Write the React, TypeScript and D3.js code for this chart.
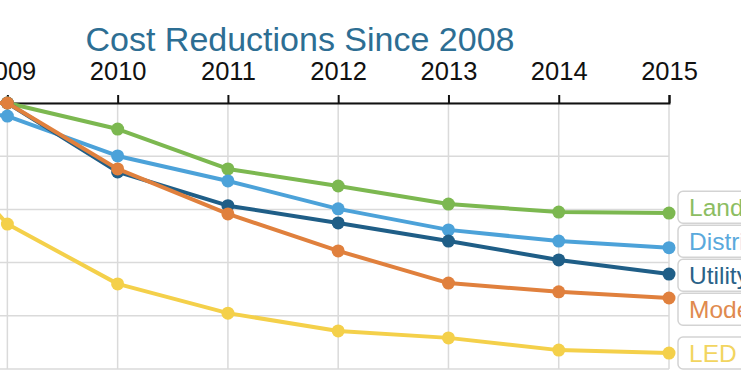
import { useRef, useEffect } from 'react';
import * as d3 from 'd3';

const W = 741;
const H = 389;

const years = [2008, 2009, 2010, 2011, 2012, 2013, 2014, 2015];
const landCost = [100, 100, 90.2, 75.2, 68.8, 62.0, 59.0, 58.6];
const distribCost = [100, 95.1, 80.1, 70.7, 60.2, 52.3, 48.1, 45.6];
const utilityCost = [100, 100, 74.1, 61.4, 54.9, 48.1, 41.0, 35.7];
const modeCost = [100, 100, 75.2, 58.3, 44.4, 32.3, 29.0, 26.7];
const ledCost = [100, 54.5, 32.0, 21.0, 14.3, 11.7, 7.1, 6.0];
const yTicks = [0, 20, 40, 60, 80, 100];

const seriesNames = ['Land Acquisition', 'Distribution', 'Utility-Scale Solar', 'Modeling', 'LED Bulbs'];
const seriesValues = [landCost, distribCost, utilityCost, modeCost, ledCost];
const lineColors = ['#7cb850', '#4ca2d9', '#1f5e87', '#e0803d', '#f4d04a'];
const textColors = ['#8cbd62', '#5aa9dc', '#2a6288', '#e08a4e', '#f2d560'];

const FONT = '"Liberation Sans", Arial, sans-serif';

const App = () => {
    const ref = useRef(null);

    useEffect(() => {
        const svg = d3.select(ref.current);
        svg.selectAll('*').remove();

        const x = d3.scaleLinear().domain([2008, 2015]).range([-102.9, 669]);
        const y = d3.scaleLinear().domain([0, 100]).range([369, 103]);

        // grid
        const grid = svg.append('g').attr('stroke', '#dadada').attr('stroke-width', 1.5);
        grid.selectAll('line.h')
            .data(yTicks)
            .enter().append('line')
            .attr('x1', x(2008)).attr('x2', x(2015))
            .attr('y1', d => y(d)).attr('y2', d => y(d));
        grid.selectAll('line.v')
            .data(years)
            .enter().append('line')
            .attr('x1', d => x(d)).attr('x2', d => x(d))
            .attr('y1', y(100)).attr('y2', y(0));

        // top axis
        const axis = d3.axisTop(x)
            .tickValues(years)
            .tickFormat(d3.format('d'))
            .tickSize(8)
            .tickSizeOuter(8)
            .tickPadding(15);
        const ag = svg.append('g')
            .attr('transform', `translate(0, ${y(100)})`)
            .call(axis);
        ag.select('.domain').attr('stroke', '#111').attr('stroke-width', 2);
        ag.selectAll('.tick line').attr('stroke', '#111').attr('stroke-width', 2);
        ag.selectAll('.tick text')
            .attr('fill', '#111')
            .style('font-size', '25.5px')
            .style('font-family', FONT);

        // lines and dots
        const line = d3.line<number>()
            .x((_, i) => x(years[i]))
            .y(d => y(d));

        seriesValues.forEach((vals, s) => {
            svg.append('path')
                .attr('d', line(vals))
                .attr('fill', 'none')
                .attr('stroke', lineColors[s])
                .attr('stroke-width', 4)
                .attr('stroke-linejoin', 'round');
            svg.selectAll(null)
                .data(vals)
                .enter().append('circle')
                .attr('cx', (_, i) => x(years[i]))
                .attr('cy', d => y(d))
                .attr('r', 6.5)
                .attr('fill', lineColors[s]);
        });

        // end labels, spread so the boxes don't overlap
        const gap = 34;
        const labels = seriesValues.map((vals, s) => ({ s, pos: y(vals[vals.length - 1]) }));
        labels.sort((a, b) => a.pos - b.pos);
        for (let iter = 0; iter < 200; iter++) {
            for (let i = 0; i < labels.length - 1; i++) {
                const d = labels[i + 1].pos - labels[i].pos;
                if (d < gap) {
                    const push = (gap - d) / 2;
                    labels[i].pos -= push;
                    labels[i + 1].pos += push;
                }
            }
        }

        const lg = svg.append('g').selectAll('g')
            .data(labels)
            .enter().append('g')
            .attr('transform', d => `translate(${x(2015) + 9}, ${d.pos})`);
        lg.append('rect')
            .attr('x', 0).attr('y', -16)
            .attr('width', 200).attr('height', 32)
            .attr('rx', 5)
            .attr('fill', '#fff')
            .attr('stroke', '#d3d3d3')
            .attr('stroke-width', 1.5);
        lg.append('text')
            .attr('x', 11).attr('y', 9)
            .attr('fill', d => textColors[d.s])
            .style('font-size', '24.5px')
            .style('font-family', FONT)
            .text(d => seriesNames[d.s]);

        // title
        svg.append('text')
            .attr('x', 300).attr('y', 51)
            .attr('text-anchor', 'middle')
            .attr('fill', '#2d6e93')
            .style('font-size', '34px')
            .style('font-family', FONT)
            .text('Cost Reductions Since 2008');
    }, []);

    return (
        <svg
            ref={ref}
            width={W}
            height={H}
            style={{ position: 'absolute', left: 0, top: 0, background: '#fff', overflow: 'hidden' }}
        ></svg>
    );
};

export default App;
